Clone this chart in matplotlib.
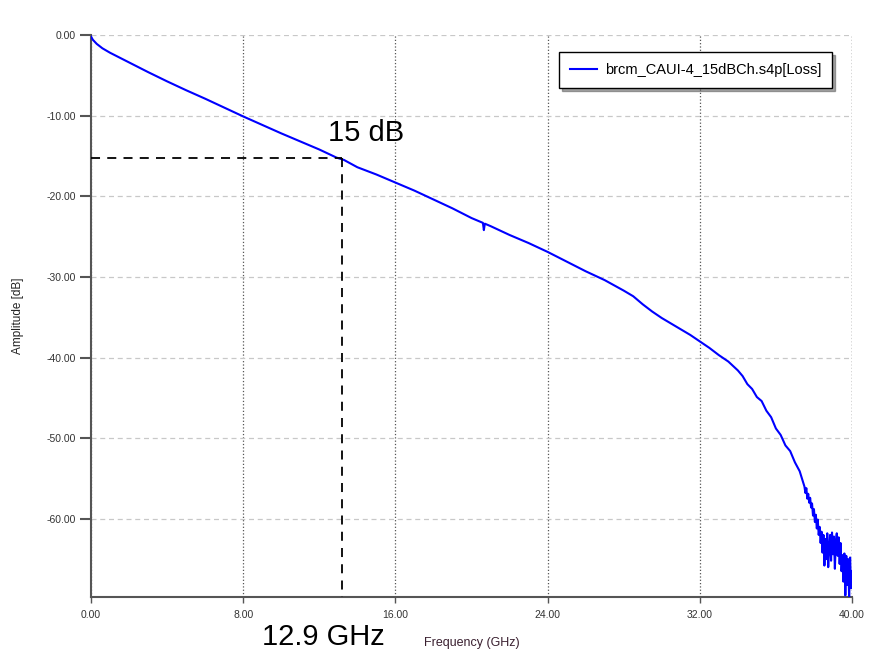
import matplotlib
matplotlib.use('Agg')
import matplotlib.pyplot as plt

plt.rcParams['font.family'] = ['Liberation Sans', 'DejaVu Sans']

# insertion loss trace
freq_ghz = [0.0, 0.1, 0.3, 0.6, 1.0, 1.5, 2.0, 3.0, 4.0, 5.0, 6.0, 7.0, 8.0, 9.0,
            10.0, 11.0, 12.0, 12.9, 13.3, 14.0, 15.0, 16.0, 17.0, 18.0, 19.0,
            20.0, 20.6, 20.65, 20.7, 21.0, 22.0, 23.0, 24.0, 25.0, 26.0, 27.0,
            28.0, 28.5, 29.0, 29.5, 30.0, 30.5, 31.0, 31.5, 32.0, 32.5, 33.0,
            33.5, 34.0, 34.25, 34.5, 34.75, 35.0, 35.25, 35.5, 35.75, 36.0,
            36.25, 36.5, 36.75, 37.0, 37.25, 37.5, 37.55, 37.6, 37.65, 37.7,
            37.75, 37.8, 37.85, 37.9, 37.95, 38.0, 38.05, 38.1, 38.15, 38.2,
            38.25, 38.3, 38.35, 38.4, 38.45, 38.5, 38.55, 38.6, 38.65, 38.7,
            38.75, 38.8, 38.85, 38.9, 38.95, 39.0, 39.05, 39.1, 39.15, 39.2,
            39.25, 39.3, 39.35, 39.4, 39.45, 39.5, 39.55, 39.6, 39.65, 39.7,
            39.75, 39.8, 39.85, 39.9, 39.95, 40.0]
loss_db = [-0.2, -0.6, -1.1, -1.65, -2.2, -2.8, -3.4, -4.6, -5.75, -6.85, -7.9, -9.0,
           -10.1, -11.15, -12.2, -13.2, -14.2, -15.2, -15.5, -16.4, -17.3, -18.3,
           -19.3, -20.4, -21.5, -22.7, -23.3, -24.2, -23.4, -23.7, -24.8, -25.8,
           -26.9, -28.1, -29.3, -30.4, -31.7, -32.4, -33.4, -34.3, -35.1, -35.8,
           -36.5, -37.2, -38.0, -38.8, -39.7, -40.5, -41.6, -42.3, -43.3, -43.9,
           -44.9, -45.4, -46.6, -47.4, -48.8, -49.6, -50.9, -51.6, -53.0, -54.1,
           -56.0, -56.8, -56.2, -57.5, -56.9, -58.0, -57.4, -58.6, -58.1, -59.6,
           -58.8, -60.4, -59.5, -61.2, -60.1, -62.0, -61.0, -63.0, -61.6, -64.2,
           -62.0, -65.8, -62.5, -65.0, -61.8, -66.0, -63.5, -62.0, -65.2, -61.7,
           -64.4, -62.2, -66.2, -62.8, -61.8, -64.6, -62.3, -65.6, -63.0, -66.5,
           -64.5, -67.8, -64.3, -69.5, -64.6, -68.2, -65.0, -69.8, -64.8, -68.6,
           -66.5]

cut_freq = 13.2
cut_db = -15.2
x_ticks = [0, 8, 16, 24, 32, 40]
y_ticks = [0, -10, -20, -30, -40, -50, -60]

fig = plt.figure(figsize=(8.7, 6.5), dpi=100)
ax = fig.add_axes([91 / 870, 1 - 597 / 650, (852 - 91) / 870, (597 - 35) / 650])

ax.plot(freq_ghz, loss_db, color='#0000ff', lw=1.5,
        label='brcm_CAUI-4_15dBCh.s4p[Loss]', zorder=3)

# 15 dB cut-off marker
ax.plot([0, cut_freq], [cut_db, cut_db], color='black', ls=(0, (5, 4)), lw=1.3, zorder=4)
ax.plot([cut_freq, cut_freq], [cut_db, -69.7], color='black', ls=(0, (5, 4)), lw=1.3,
        zorder=4, clip_on=False)
ax.text(12.45, -13.1, '15 dB', fontsize=21, ha='left', va='baseline')
ax.text(8.99, -75.6, '12.9 GHz', fontsize=21, ha='left', va='baseline', clip_on=False)

ax.set_xlim(0, 40)
ax.set_ylim(-69.7, 0)
ax.set_xticks(x_ticks)
ax.set_xticklabels(['%.2f' % v for v in x_ticks])
ax.set_yticks(y_ticks)
ax.set_yticklabels(['%.2f' % v for v in y_ticks])

for s in ['top', 'right']:
    ax.spines[s].set_visible(False)
for s in ['left', 'bottom']:
    ax.spines[s].set_color('#555555')
    ax.spines[s].set_linewidth(1.5)

ax.tick_params(axis='y', length=8, width=1.5, color='#555555', labelsize=7.5,
               labelcolor='#333333', pad=3)
ax.tick_params(axis='x', length=4, width=1.0, color='#555555', labelsize=7.5,
               labelcolor='#333333', pad=5)

ax.grid(axis='x', ls=':', color='#555555', lw=0.9)
ax.grid(axis='y', ls=(0, (4, 3)), color='#c8c8c8', lw=0.9)
ax.axvline(40, ls=':', color='#555555', lw=0.9)
ax.set_axisbelow(True)

ax.set_xlabel('Frequency (GHz)', fontsize=9, color='#3a2030', labelpad=2)
ax.xaxis.set_label_coords((472 - 91) / (852 - 91), -0.072)
ax.set_ylabel('Amplitude [dB]', fontsize=8.5, color='#222222')
ax.yaxis.set_label_coords(-0.088, 0.5)

leg = ax.legend(loc='upper right', bbox_to_anchor=(832 / 870, 1 - 52 / 650),
                bbox_transform=fig.transFigure, borderaxespad=0, fontsize=10.5,
                frameon=True, fancybox=False, shadow=True, handlelength=1.9,
                borderpad=0.75, handletextpad=0.5)
leg.get_frame().set_edgecolor('black')
leg.get_frame().set_linewidth(1.0)

fig.savefig('out.png', dpi=100)
